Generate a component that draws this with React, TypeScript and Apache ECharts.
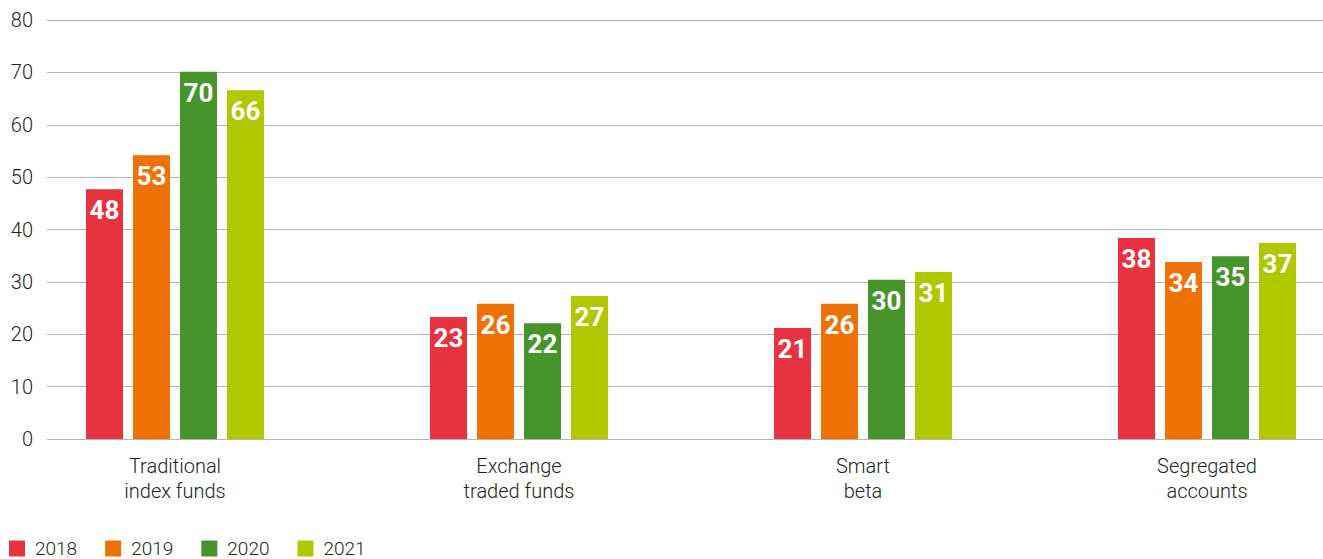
import React, { useEffect, useRef } from "react";
import * as echarts from "echarts";

const categories = ["Traditional\nindex funds", "Exchange\ntraded funds", "Smart\nbeta", "Segregated\naccounts"];
const years = ["2018", "2019", "2020", "2021"];
const values2018 = [47.7, 23.3, 21.2, 38.4];
const values2019 = [54.2, 25.8, 25.8, 33.8];
const values2020 = [70.1, 22.1, 30.4, 34.9];
const values2021 = [66.6, 27.3, 31.9, 37.4];
const labels2018 = ["48", "23", "21", "38"];
const labels2019 = ["53", "26", "26", "34"];
const labels2020 = ["70", "22", "30", "35"];
const labels2021 = ["66", "27", "31", "37"];
const yTicks = [0, 10, 20, 30, 40, 50, 60, 70, 80];
const colors = ["#E8323F", "#EE7203", "#46952B", "#AFC800"];

const seriesValues = [values2018, values2019, values2020, values2021];
const seriesLabels = [labels2018, labels2019, labels2020, labels2021];

export default function App() {
  const ref = useRef<HTMLDivElement>(null);
  useEffect(() => {
    if (!ref.current) return;
    const chart = echarts.init(ref.current, null, { renderer: "svg" });
    const font = "Roboto, 'Noto Sans', sans-serif";
    chart.setOption({
      animation: false,
      textStyle: { fontFamily: font },
      color: colors,
      legend: {
        data: years,
        left: 9,
        top: 539,
        padding: 0,
        icon: "rect",
        itemWidth: 16,
        itemHeight: 16,
        itemGap: 28,
        textStyle: { fontSize: 19, lineHeight: 17, color: "#222", fontFamily: font, fontWeight: 300, padding: [0, 0, 0, 5] },
      },
      grid: [
        { left: 47, right: 0, top: 20, bottom: 120, outerBoundsMode: "none" },
        { left: 3, width: 1376, top: 20, bottom: 120, outerBoundsMode: "none" },
      ],
      xAxis: [
        { type: "category", gridIndex: 0, data: categories, show: false },
        {
          type: "category",
          gridIndex: 1,
          data: categories,
          axisLine: { show: false },
          axisTick: { show: false },
          axisLabel: { margin: 14, fontSize: 20, lineHeight: 25, color: "#222", fontFamily: font, fontWeight: 300 },
        },
      ],
      yAxis: [
        {
          type: "value",
          gridIndex: 0,
          min: yTicks[0],
          max: yTicks[yTicks.length - 1],
          interval: 10,
          axisLine: { show: false },
          axisTick: { show: false },
          axisLabel: { margin: 14, fontSize: 20, color: "#222", fontFamily: font, fontWeight: 300 },
          splitLine: { lineStyle: { color: "#b4b4b4", width: 1 } },
        },
        {
          type: "value",
          gridIndex: 1,
          min: yTicks[0],
          max: yTicks[yTicks.length - 1],
          interval: 10,
          show: false,
          splitLine: { show: false },
        },
      ],
      series: years.map((y, i) => ({
        name: y,
        type: "bar",
        xAxisIndex: 1,
        yAxisIndex: 1,
        data: seriesValues[i],
        barWidth: 37,
        barGap: "27%",
        itemStyle: { color: colors[i] },
        label: {
          show: true,
          position: "insideTop",
          distance: 8,
          color: "#fff",
          fontSize: 26,
          fontWeight: "bold",
          fontFamily: font,
          formatter: (p: any) => seriesLabels[i][p.dataIndex],
        },
      })),
    });
    return () => chart.dispose();
  }, []);
  return <div ref={ref} style={{ width: 1323, height: 559, position: "absolute", left: 0, top: 0 }} />;
}
